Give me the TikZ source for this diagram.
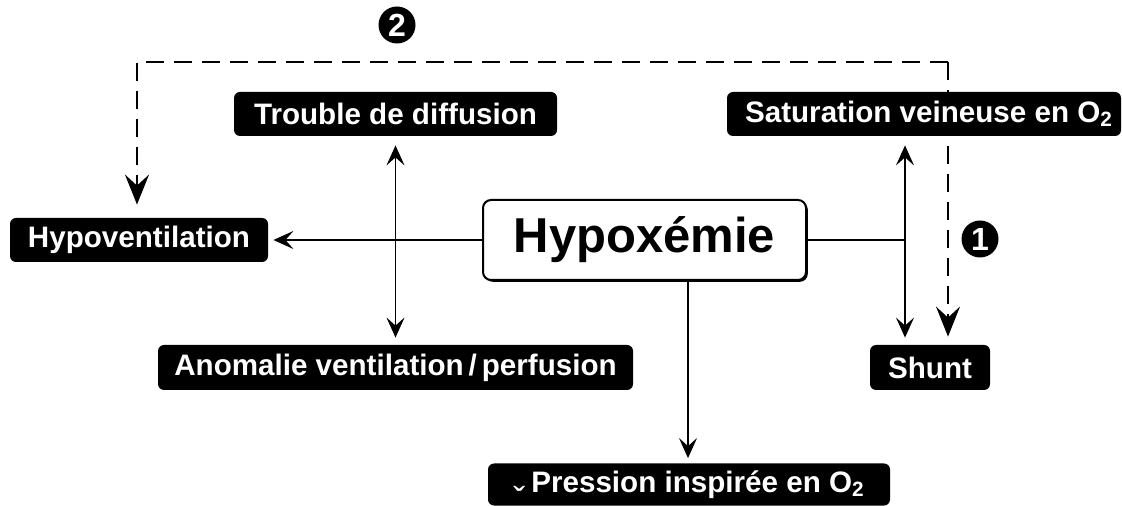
\documentclass[tikz,border=0pt]{standalone}
\usepackage{fontspec}
\setmainfont{Liberation Sans}
\usetikzlibrary{arrows.meta,shadows,backgrounds}
\begin{document}
\begin{tikzpicture}[x=0.5pt,y=-0.5pt,
 lab/.style={fill=black,text=white,rounded corners=3pt,inner sep=0pt,font=\fontsize{14.8}{16}\selectfont\bfseries},
 mainbox/.style={draw=black,line width=1pt,fill=white,rounded corners=4pt,inner sep=0pt,
   minimum width=161.5pt,minimum height=40pt,font=\fontsize{24.5}{28}\selectfont\bfseries,
   drop shadow={shadow xshift=0.9pt,shadow yshift=-0.9pt,fill=black,opacity=1}},
 num/.style={circle,fill=black,text=white,inner sep=0pt,minimum size=18.5pt,font=\fontsize{16}{16}\selectfont\bfseries},
 conn/.style={line width=0.75pt},
 tipone/.style={-{Stealth[length=10pt,width=9pt,inset=4pt]}},
 tiptwo/.style={{Stealth[length=10pt,width=9pt,inset=4pt]}-{Stealth[length=10pt,width=9pt,inset=4pt]}},
 dashline/.style={line width=1pt,dash pattern=on 9pt off 5pt,-{Stealth[length=15pt,width=12pt,inset=5.5pt]}},
]
\useasboundingbox (0,0) rectangle (1122,506);

\node[mainbox] (hyp) at (644.5,240) {Hypoxémie};
\node[lab,minimum width=161.5pt,minimum height=22pt] (tro) at (395.5,114) {Trouble de diffusion};
\node[lab,minimum width=197pt,minimum height=22pt] (sat) at (924,114) {\hspace{5pt}Saturation veineuse en O\textsubscript{2}};
\node[lab,minimum width=129pt,minimum height=22pt] (hypov) at (139,240) {Hypoventilation};
\node[lab,minimum width=237.5pt,minimum height=22.5pt] (anom) at (395.5,367.5) {Anomalie ventilation\,/\,perfusion};
\node[lab,minimum width=60pt,minimum height=22.5pt] (shunt) at (930,367.5) {Shunt};
\node[lab,minimum width=201pt,minimum height=21pt] (pres) at (689,484.5) {\smash{\raisebox{-10pt}{\fontsize{18}{18}\selectfont\mdseries ˇ}}\hspace{3pt}Pression inspirée en O\textsubscript{2}};

\node[num] (n2) at (397,25) {2};
\node[num] (n1) at (980,239) {1};

\coordinate (j) at (905,240);
\coordinate (d) at (688,0);
\coordinate (c1) at (948,62);
\coordinate (c2) at (137,62);

\draw[conn,tipone,shorten >=2.5pt] (hyp.west) -- (hypov.east);
\draw[conn,tiptwo,shorten <=4.5pt,shorten >=3.5pt] (tro.south) -- (anom.north);
\draw[conn] (hyp.east) -- (j);
\draw[conn,tiptwo,shorten <=4.5pt,shorten >=3.5pt] (sat.south -| j) -- (shunt.north -| j);
\draw[conn,tipone,shorten >=2.5pt] (hyp.south -| d) -- (pres.north -| d);

\begin{scope}[on background layer]
\draw[dashline,shorten >=6.5pt] (c1) -- (c2) -- (hypov.north -| c2);
\draw[dashline,shorten >=4pt] (c1) -- (shunt.north -| c1);
\end{scope}
\end{tikzpicture}
\end{document}
